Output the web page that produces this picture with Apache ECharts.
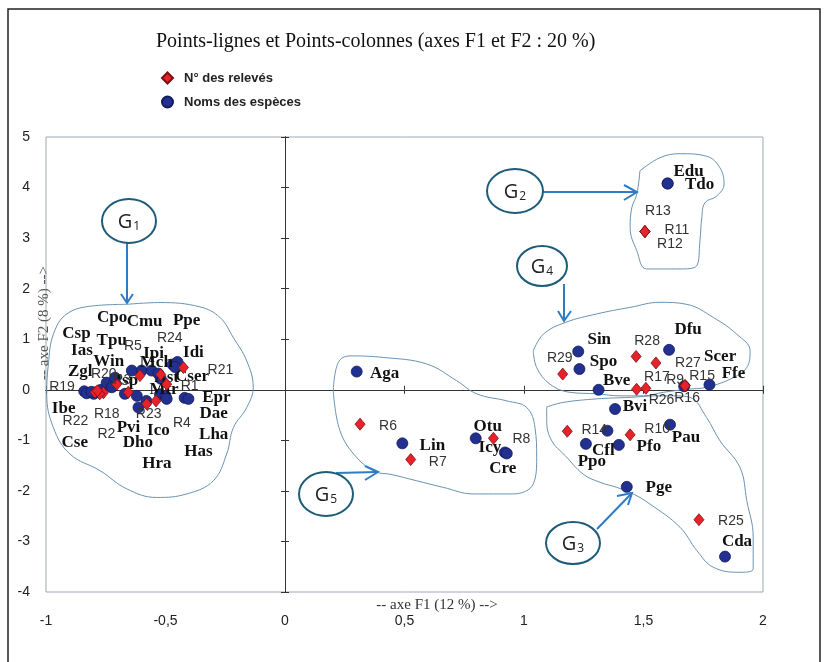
<!DOCTYPE html>
<html>
<head>
<meta charset="utf-8">
<script src="https://cdn.jsdelivr.net/npm/echarts@6.0.0/dist/echarts.min.js"></script>
<style>
html, body { margin: 0; padding: 0; background: #fff; }
#main { width: 827px; height: 662px; }
</style>
</head>
<body>
<div id="main"></div>
<script>
// relevés (red diamonds)
const releveNames = ['R1','R2','R3','R4','R5','R6','R7','R8','R9','R10','R11','R12','R13','R14','R15',
  'R16','R17','R18','R19','R20','R21','R22','R23','R24','R25','R26','R27','R28','R29'];
const releveX = [-0.495,-0.76,-0.656,-0.54,-0.607,0.314,0.526,0.872,1.674,1.444,1.506,1.506,1.506,1.181,1.674,
  1.674,1.51,-0.775,-0.795,-0.704,-0.425,-0.785,-0.579,-0.52,1.732,1.471,1.552,1.469,1.162];
const releveY = [0.11,-0.06,-0.05,-0.22,0.28,-0.68,-1.38,-0.96,0.08,-0.89,3.13,3.13,3.13,-0.82,0.08,
  0.08,0.03,-0.08,-0.05,0.11,0.44,-0.02,-0.28,0.30,-2.57,0.01,0.53,0.66,0.31];

// espèces (blue circles)
const especeNames = ['Zgl','Ibe','Cse','Csp','Ias','Tpu','Win','Cpo','Dho','Isp','Pvi','Cmu','Hra','Ico','Ipi',
  'Mch','Ast','Mtr','Has','Lha','Ppe','Idi','Cser','Dae','Epr',
  'Aga','Lin','Otu','Icy','Cre',
  'Edu','Tdo',
  'Sin','Spo','Bve','Dfu','Scer','Ffe',
  'Bvi','Cfl','Ppo','Pfo','Pau','Pge','Cda'];
const especeX = [-0.84,-0.83,-0.80,-0.81,-0.77,-0.746,-0.725,-0.711,-0.67,-0.641,-0.613,-0.60,-0.62,-0.58,-0.558,
  -0.53,-0.52,-0.523,-0.50,-0.495,-0.47,-0.45,-0.46,-0.42,-0.404,
  0.30,0.491,0.798,0.92,0.928,
  1.601,1.601,
  1.227,1.232,1.312,1.607,1.67,1.776,
  1.381,1.349,1.259,1.397,1.611,1.43,1.841];
const especeY = [-0.03,-0.07,-0.08,-0.04,0.0,0.14,0.05,0.24,-0.08,0.38,-0.35,0.38,-0.12,-0.22,0.38,
  0.32,0.22,-0.09,-0.12,-0.18,0.50,0.55,0.45,-0.16,-0.18,
  0.36,-1.06,-0.96,-1.24,-1.26,
  4.08,4.08,
  0.757,0.41,0.0,0.79,0.07,0.10,
  -0.38,-0.81,-1.07,-1.09,-0.69,-1.92,-3.30];

const xTicks = [-1, -0.5, 0, 0.5, 1, 1.5, 2];
const yTicks = [-4, -3, -2, -1, 0, 1, 2, 3, 4, 5];

// label placement (px offset from the point), as in the original plot
const labelOffsets = {
  R1:[23,2], R2:[3,41], R3:[-6,-12], R4:[26,22], R5:[-7,-29], R6:[28,2], R7:[27,3], R8:[28,1],
  R9:[-10,-6], R10:[27,-6], R11:[32,-1], R12:[25,13], R13:[13,-20], R14:[27,-1], R15:[17,-10],
  R16:[2,12], R17:[11,-11], R18:[7,20], R19:[-33,-5], R20:[-13,-10], R21:[37,3], R22:[-22,30],
  R23:[2,10], R24:[9,-36], R25:[32,1], R26:[25,11], R27:[32,0], R28:[11,-15], R29:[-3,-16],
  Zgl:[-4,-20], Ibe:[-23,15], Cse:[-19,49], Csp:[-15,-58], Ias:[-19,-39], Tpu:[5,-42], Win:[-3,-26],
  Cpo:[-3,-60], Dho:[13,49], Isp:[-5,10], Pvi:[-10,20], Cmu:[3,-49], Hra:[20,68], Ico:[12,30],
  Ipi:[2,-17], Mch:[-2,-11], Ast:[6,-1], Mtr:[4,-5], Has:[33,56], Lha:[47,36], Ppe:[14,-44],
  Idi:[16,-9], Cser:[17,10], Dae:[29,16], Epr:[28,-1],
  Aga:[28,2], Lin:[30,2], Otu:[12,-12], Icy:[-15,-5], Cre:[-4,15], Edu:[21,-12], Tdo:[32,1],
  Sin:[21,-12], Spo:[24,-7], Bve:[18,-9], Dfu:[19,-20], Scer:[36,-30], Ffe:[24,-11],
  Bvi:[20,-2], Cfl:[-4,20], Ppo:[6,18], Pfo:[30,2], Pau:[16,13], Pge:[32,1], Cda:[12,-15]
};

// hand drawn group contours (data coords)
const contours = [
  [[-0.662,1.69],[-0.523,1.725],[-0.356,1.64],[-0.272,1.43],[-0.216,1.03],[-0.160,0.57],[-0.133,0.05],
   [-0.160,-0.35],[-0.216,-0.75],[-0.244,-1.27],[-0.300,-1.80],[-0.411,-2.06],[-0.537,-2.13],[-0.662,-1.96],
   [-0.774,-1.60],[-0.900,-1.27],[-0.969,-0.75],[-0.997,-0.08],[-0.990,0.51],[-0.969,1.10],[-0.913,1.50],
   [-0.802,1.66],[-0.662,1.69]],
  [[1.485,4.33],[1.569,4.59],[1.653,4.67],[1.764,4.62],[1.820,4.39],[1.837,4.07],[1.806,3.83],[1.757,3.70],
   [1.744,3.41],[1.736,2.94],[1.722,2.45],[1.653,2.39],[1.513,2.39],[1.472,2.75],[1.444,3.21],[1.451,3.60],
   [1.472,3.87],[1.485,4.33]],
  [[1.039,0.77],[1.081,1.10],[1.172,1.33],[1.304,1.50],[1.444,1.63],[1.569,1.73],[1.681,1.69],[1.792,1.43],
   [1.890,1.10],[1.946,0.77],[1.932,0.44],[1.876,0.24],[1.764,0.05],[1.681,0.01],[1.583,-0.05],[1.499,-0.12],
   [1.402,-0.12],[1.304,-0.08],[1.192,-0.05],[1.109,0.11],[1.053,0.44],[1.039,0.77]],
  [[1.095,-0.34],[1.164,-0.25],[1.304,-0.18],[1.444,-0.15],[1.555,-0.12],[1.625,-0.12],[1.695,-0.15],
   [1.764,-0.55],[1.820,-1.01],[1.904,-1.54],[1.932,-2.19],[1.959,-2.92],[1.959,-3.54],[1.904,-3.61],
   [1.792,-3.51],[1.723,-3.18],[1.653,-2.72],[1.527,-2.26],[1.457,-2.06],[1.388,-1.93],[1.318,-1.83],
   [1.248,-1.67],[1.172,-1.30],[1.116,-1.01],[1.095,-0.61],[1.095,-0.34]],
  [[0.202,-0.02],[0.223,0.54],[0.272,0.67],[0.411,0.64],[0.593,0.51],[0.718,0.18],[0.802,-0.08],[0.928,-0.22],
   [1.011,-0.35],[1.046,-0.75],[1.053,-1.34],[1.039,-1.86],[0.955,-2.06],[0.788,-2.06],[0.662,-1.93],
   [0.551,-1.80],[0.439,-1.67],[0.384,-1.63],[0.300,-1.34],[0.230,-0.81],[0.202,-0.02]]
];

const chart = echarts.init(document.getElementById('main'));

const fmt = v => String(v).replace('.', ',');

function pts(names, xs, ys) {
  return names.map((n, i) => ({
    name: n,
    value: [xs[i], ys[i]],
    label: { offset: labelOffsets[n] || [0, -12] }
  }));
}

// G_n bubbles with arrows (pixel space)
function groupMark(n, cx, cy, rx, ry, line, head) {
  return [
    { type: 'ellipse', shape: { cx: cx, cy: cy, rx: rx, ry: ry }, z: 100,
      style: { fill: '#fff', stroke: '#1d5c7a', lineWidth: 2 } },
    { type: 'text', x: cx, y: cy + 1, z: 101,
      style: { text: '{g|G}{s|' + n + '}', align: 'center', verticalAlign: 'middle',
        rich: { g: { fontSize: 20, fontFamily: 'Open Sans', fill: '#222' },
                s: { fontSize: 12, fontFamily: 'Open Sans', fill: '#222', padding: [9, 0, 0, 1] } } } },
    { type: 'polyline', shape: { points: line }, z: 99,
      style: { stroke: '#2e7cc4', lineWidth: 2, fill: null } },
    { type: 'polyline', shape: { points: head }, z: 99,
      style: { stroke: '#2e7cc4', lineWidth: 2, fill: null } }
  ];
}

const axisBase = { type: 'value', min: -1, max: 2, interval: 0.5, splitLine: { show: false } };
const yBase = { type: 'value', min: -4, max: 5, interval: 1, splitLine: { show: false } };

const option = {
  animation: false,
  backgroundColor: '#fff',
  title: {
    text: 'Points-lignes et Points-colonnes (axes F1 et F2 : 20 %)',
    left: 151, top: 27,
    textStyle: { fontFamily: 'Liberation Serif', fontSize: 20, fontWeight: 'normal', color: '#111' }
  },
  legend: {
    orient: 'vertical', left: 156, top: 66,
    itemWidth: 11, itemHeight: 11, itemGap: 10,
    data: ['N° des relevés', 'Noms des espèces'],
    textStyle: { fontFamily: 'Liberation Sans', fontSize: 13, fontWeight: 'bold', color: '#222',
      lineHeight: 14, padding: [0, 0, 0, 6] }
  },
  grid: { left: 46, right: 64, top: 137, bottom: 70, show: true, borderColor: '#9ea9b3', borderWidth: 1 },
  xAxis: [
    Object.assign({}, axisBase, {
      position: 'bottom',
      axisLine: { show: false, onZero: false }, axisTick: { show: false },
      axisLabel: { margin: 22, fontSize: 14, fontFamily: 'Liberation Sans', color: '#222', formatter: fmt,
        customValues: xTicks }
    }),
    Object.assign({}, axisBase, {
      position: 'bottom',
      axisLine: { show: true, onZero: true, lineStyle: { color: '#333', width: 1 } },
      axisTick: { show: true, length: 4, lineStyle: { color: '#333' } },
      axisLabel: { show: false }
    }),
    Object.assign({}, axisBase, {
      position: 'top',
      axisLine: { show: true, onZero: true, lineStyle: { color: '#333', width: 1 } },
      axisTick: { show: true, length: 4, lineStyle: { color: '#333' } },
      axisLabel: { show: false }
    })
  ],
  yAxis: [
    Object.assign({}, yBase, {
      position: 'left',
      axisLine: { show: false, onZero: false }, axisTick: { show: false },
      axisLabel: { margin: 16, fontSize: 14, fontFamily: 'Liberation Sans', color: '#222', customValues: yTicks }
    }),
    Object.assign({}, yBase, {
      position: 'left',
      axisLine: { show: true, onZero: true, lineStyle: { color: '#333', width: 1 } },
      axisTick: { show: true, length: 4, lineStyle: { color: '#333' } },
      axisLabel: { show: false }
    }),
    Object.assign({}, yBase, {
      position: 'right',
      axisLine: { show: true, onZero: true, lineStyle: { color: '#333', width: 1 } },
      axisTick: { show: true, length: 4, lineStyle: { color: '#333' } },
      axisLabel: { show: false }
    })
  ],
  series: contours.map(c => ({
    type: 'line', data: c, smooth: 0.4, showSymbol: false, silent: true, z: 1,
    lineStyle: { color: '#6a93b3', width: 1 }
  })).concat([
    {
      name: 'Noms des espèces',
      type: 'scatter',
      symbol: 'circle', symbolSize: 11, z: 3,
      itemStyle: { color: '#22308f', borderColor: '#141c5e', borderWidth: 0.8, opacity: 1 },
      label: { show: true, position: 'inside', formatter: '{b}', align: 'center', verticalAlign: 'middle',
        fontFamily: 'Liberation Serif', fontWeight: 'bold', fontSize: 17, color: '#111' },
      data: pts(especeNames, especeX, especeY)
    },
    {
      name: 'N° des relevés',
      type: 'scatter',
      symbol: 'diamond', symbolSize: [10, 12], z: 4,
      itemStyle: { color: '#e8222b', borderColor: '#7a1010', borderWidth: 0.8, opacity: 1 },
      label: { show: true, position: 'inside', formatter: '{b}', align: 'center', verticalAlign: 'middle',
        fontFamily: 'Liberation Sans', fontSize: 14, color: '#333' },
      data: pts(releveNames, releveX, releveY)
    }
  ]),
  graphic: [
    { type: 'rect', shape: { x: 8, y: 9, width: 812, height: 660 }, silent: true, z: 0,
      style: { fill: null, stroke: '#222', lineWidth: 1.5 } },
    { type: 'text', x: 437, y: 605, z: 50,
      style: { text: '-- axe F1 (12 %) -->', align: 'center', verticalAlign: 'middle',
        fontFamily: 'Liberation Serif', fontSize: 15, fill: '#333' } },
    { type: 'text', x: 44, y: 323, rotation: Math.PI / 2, z: 50,
      style: { text: '-- axe F2 (8 %) -->', align: 'center', verticalAlign: 'middle',
        fontFamily: 'Liberation Serif', fontSize: 15, fill: '#555' } }
  ].concat(
    groupMark(1, 129, 221, 27, 22, [[127, 243], [127, 302]], [[121, 294], [127, 303], [133, 294]]),
    groupMark(2, 515, 191, 28, 22, [[543, 192], [636, 192]], [[624, 185], [637, 192], [624, 200]]),
    groupMark(4, 542, 266, 25, 20, [[564, 284], [564, 320]], [[558, 311], [564, 321], [571, 311]]),
    groupMark(5, 326, 494, 27, 22, [[336, 473], [377, 472]], [[365, 466], [378, 472], [365, 480]]),
    groupMark(3, 573, 543, 27, 21, [[597, 529], [631, 494]], [[617, 496], [632, 493], [628, 505]])
  )
};

chart.setOption(option);
</script>
</body>
</html>
